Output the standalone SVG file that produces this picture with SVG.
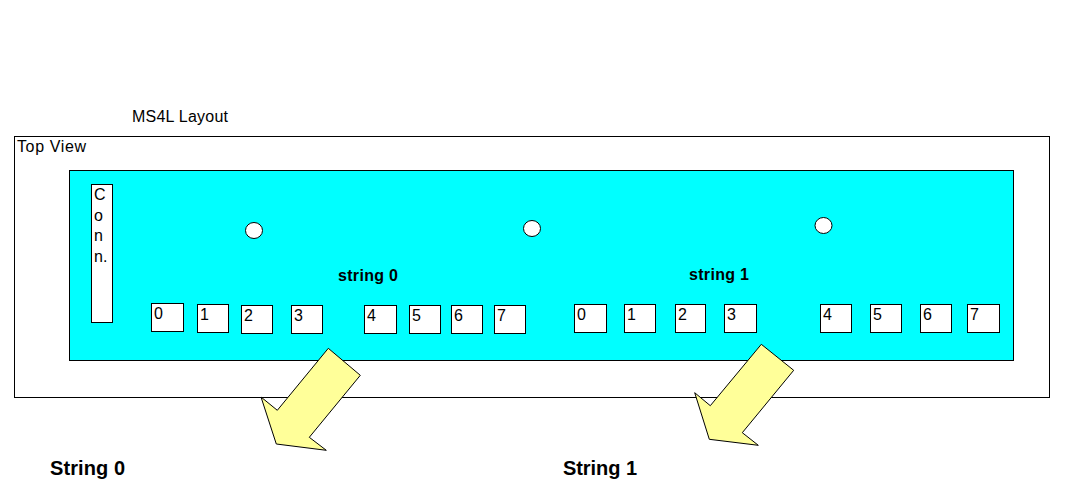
<svg xmlns="http://www.w3.org/2000/svg" width="1067" height="484" viewBox="0 0 1067 484">
<style>
text{font-family:"Liberation Sans",Arial,sans-serif;font-size:16px;fill:#000}
.b{font-weight:bold}
.big{font-weight:bold;font-size:20px}
rect,ellipse,polygon{stroke:#000;stroke-width:1}
.w{fill:#fff}
.ar{fill:#ffff99}
rect{shape-rendering:crispEdges}
.bg{stroke:none;fill:#fff}
</style>
<rect class="bg" width="1067" height="484"/>
<text x="132" y="122" textLength="96">MS4L Layout</text>
<g id="top-view"><rect class="w" x="14.5" y="136.5" width="1035" height="261"/><text x="17" y="152" textLength="69">Top View</text></g>
<g id="board"><rect x="69.5" y="170.5" width="944" height="190" fill="#00ffff"/></g>
<g id="conn"><rect class="w" x="91.5" y="184.5" width="21" height="138"/>
<text x="94" y="200">C</text><text x="94" y="221">o</text><text x="94" y="241">n</text><text x="94" y="262">n.</text></g>
<g id="hole-0"><ellipse class="w" cx="254" cy="230.5" rx="8.5" ry="8"/></g>
<g id="hole-1"><ellipse class="w" cx="532" cy="228.5" rx="8.5" ry="8"/></g>
<g id="hole-2"><ellipse class="w" cx="823.5" cy="225.5" rx="8.5" ry="8"/></g>
<g id="label-string-0"><text class="b" x="338" y="281" textLength="60">string 0</text></g>
<g id="label-string-1"><text class="b" x="689" y="280" textLength="60">string 1</text></g>
<g id="s0-0"><rect class="w" x="151.5" y="303.5" width="32" height="28"/><text x="154" y="319">0</text></g>
<g id="s0-1"><rect class="w" x="197.5" y="304.5" width="31" height="28"/><text x="200" y="320">1</text></g>
<g id="s0-2"><rect class="w" x="241.5" y="305.5" width="31" height="28"/><text x="244" y="321">2</text></g>
<g id="s0-3"><rect class="w" x="291.5" y="305.5" width="31" height="28"/><text x="294" y="321">3</text></g>
<g id="s0-4"><rect class="w" x="364.5" y="305.5" width="32" height="28"/><text x="367" y="321">4</text></g>
<g id="s0-5"><rect class="w" x="409.5" y="305.5" width="31" height="28"/><text x="412" y="321">5</text></g>
<g id="s0-6"><rect class="w" x="451.5" y="305.5" width="31" height="28"/><text x="454" y="321">6</text></g>
<g id="s0-7"><rect class="w" x="494.5" y="305.5" width="31" height="28"/><text x="497" y="321">7</text></g>
<g id="s1-0"><rect class="w" x="574.5" y="304.5" width="32" height="28"/><text x="577" y="320">0</text></g>
<g id="s1-1"><rect class="w" x="624.5" y="304.5" width="31" height="28"/><text x="627" y="320">1</text></g>
<g id="s1-2"><rect class="w" x="675.5" y="304.5" width="30" height="28"/><text x="678" y="320">2</text></g>
<g id="s1-3"><rect class="w" x="724.5" y="304.5" width="32" height="28"/><text x="727" y="320">3</text></g>
<g id="s1-4"><rect class="w" x="820.5" y="304.5" width="31" height="28"/><text x="823" y="320">4</text></g>
<g id="s1-5"><rect class="w" x="870.5" y="304.5" width="31" height="28"/><text x="873" y="320">5</text></g>
<g id="s1-6"><rect class="w" x="920.5" y="304.5" width="31" height="28"/><text x="923" y="320">6</text></g>
<g id="s1-7"><rect class="w" x="967.5" y="304.5" width="32" height="28"/><text x="970" y="320">7</text></g>
<g id="connectors">
<polygon class="ar" points="328.3,348.3 360.3,375.3 309.3,437.3 326.3,450.3 276.3,444 261,397 277.3,410.3"/>
<polygon class="ar" points="761.3,344.3 793.7,370.3 742.3,432.7 758.3,445.3 709.3,439.3 694.7,392.7 710.3,405.7"/>
</g>
<g id="title-string-0"><text class="big" x="50" y="475" textLength="75">String 0</text></g>
<g id="title-string-1"><text class="big" x="563" y="475" textLength="74">String 1</text></g>
</svg>
